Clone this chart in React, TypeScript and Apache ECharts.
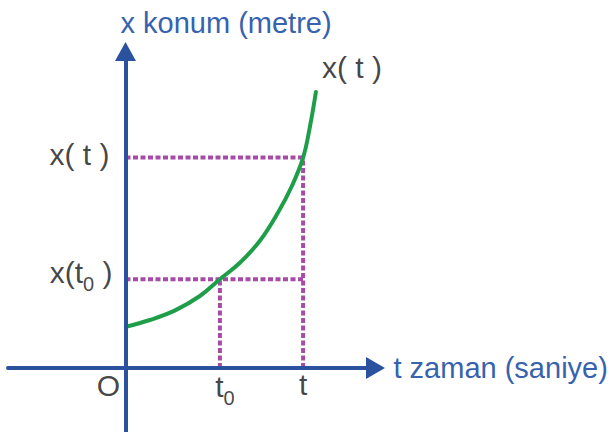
import React, { useEffect, useRef } from 'react';
import * as echarts from 'echarts';

// axis titles
const axisNames = ['t zaman (saniye)', 'x konum (metre)'];
// marked instants on the time axis: t0, t
const timeMarks = [2.36, 4.44];
// matching positions: x(t0), x(t)
const positionMarks = [2.22, 5.26];
// green curve x(t)
const curveTime = [0.01, 0.61, 1.24, 1.86, 2.36, 2.86, 3.36, 3.81, 4.16, 4.44, 4.61, 4.76];
const curvePos = [1.03, 1.2, 1.44, 1.8, 2.22, 2.63, 3.18, 3.88, 4.55, 5.26, 6.03, 6.9];
// texts
const originLabel = 'O';
const timeLabels = ['{n|t}{s|0}', '{n|t}'];
const positionLabels = ['{n|x(t}{s|0}{n| )}', '{n|x( t )}'];
const curveLabel = '{n|x( t )}';

const BLUE = '#2a529f';
const TITLE = '#3762ad';
const GREEN = '#1f9e4a';
const PURPLE = '#a64ca6';
const INK = '#141414';
const FONT = 'Liberation Sans, Arial, sans-serif';

const rich = {
  n: { fontSize: 30, fontFamily: FONT, color: INK, lineHeight: 36, verticalAlign: 'top' as const },
  s: { fontSize: 20, fontFamily: FONT, color: INK, lineHeight: 20, verticalAlign: 'top' as const, padding: [17, 0, 0, 0] },
};

export default function App() {
  const ref = useRef<HTMLDivElement>(null);
  useEffect(() => {
    if (!ref.current) return;
    const chart = echarts.init(ref.current, undefined, { renderer: 'svg' });

    const dash = (data: number[][]) => ({
      type: 'line',
      data,
      symbol: 'none',
      silent: true,
      z: 2,
      lineStyle: { color: PURPLE, width: 4, type: [5, 2.5], cap: 'butt' },
    });

    const labelItem = (value: number[], text: string, offset: number[], align: string) => ({
      value,
      label: {
        show: true,
        position: 'inside',
        formatter: text,
        offset,
        align,
        verticalAlign: 'middle',
        rich,
      },
    });

    const axisCommon = {
      type: 'value' as const,
      z: 5,
      axisTick: { show: false },
      axisLabel: { show: false },
      splitLine: { show: false },
    };

    chart.setOption({
      animation: false,
      backgroundColor: '#ffffff',
      grid: { left: 8, right: 235.5, top: 51.5, bottom: 0 },
      xAxis: {
        ...axisCommon,
        min: -2.9375,
        max: 6.25,
        axisLine: {
          show: true,
          onZero: true,
          symbol: ['none', 'triangle'],
          symbolSize: [22, 19],
          lineStyle: { color: BLUE, width: 4 },
        },
        name: axisNames[0],
        nameLocation: 'end',
        nameGap: 18,
        nameTextStyle: { color: TITLE, fontSize: 29, fontFamily: FONT, align: 'left', verticalAlign: 'middle' },
      },
      yAxis: {
        ...axisCommon,
        min: -1.6,
        max: 7.9125,
        axisLine: {
          show: true,
          onZero: true,
          symbol: ['none', 'triangle'],
          symbolSize: [21, 19],
          lineStyle: { color: BLUE, width: 4 },
        },
        name: axisNames[1],
        nameLocation: 'end',
        nameGap: 29,
        nameTextStyle: { color: TITLE, fontSize: 29, fontFamily: FONT, align: 'left', verticalAlign: 'middle', padding: [0, 0, 0, -5] },
      },
      series: [
        dash([[0, positionMarks[0]], [timeMarks[1], positionMarks[0]]]),
        dash([[0, positionMarks[1]], [timeMarks[1], positionMarks[1]]]),
        dash([[timeMarks[0], 0], [timeMarks[0], positionMarks[0]]]),
        dash([[timeMarks[1], 0], [timeMarks[1], positionMarks[1]]]),
        {
          type: 'line',
          data: curveTime.map((t, i) => [t, curvePos[i]]),
          smooth: 0.4,
          symbol: 'none',
          silent: true,
          z: 3,
          lineStyle: { color: GREEN, width: 4, cap: 'round' },
        },
        {
          type: 'scatter',
          symbolSize: 1,
          silent: true,
          itemStyle: { color: 'rgba(0,0,0,0)' },
          z: 6,
          data: [
            labelItem([0, 0], `{n|${originLabel}}`, [-17, 20], 'center'),
            labelItem([timeMarks[0], 0], timeLabels[0], [5, 21], 'center'),
            labelItem([timeMarks[1], 0], timeLabels[1], [0, 19], 'center'),
            labelItem([0, positionMarks[0]], positionLabels[0], [-13, -4], 'right'),
            labelItem([0, positionMarks[1]], positionLabels[1], [-16, 0], 'right'),
            labelItem([curveTime[curveTime.length - 1], curvePos[curvePos.length - 1]], curveLabel, [6, -22], 'left'),
          ],
        },
      ],
    });
    return () => chart.dispose();
  }, []);
  return <div ref={ref} style={{ position: 'absolute', left: 0, top: 0, width: 611, height: 432 }} />;
}
